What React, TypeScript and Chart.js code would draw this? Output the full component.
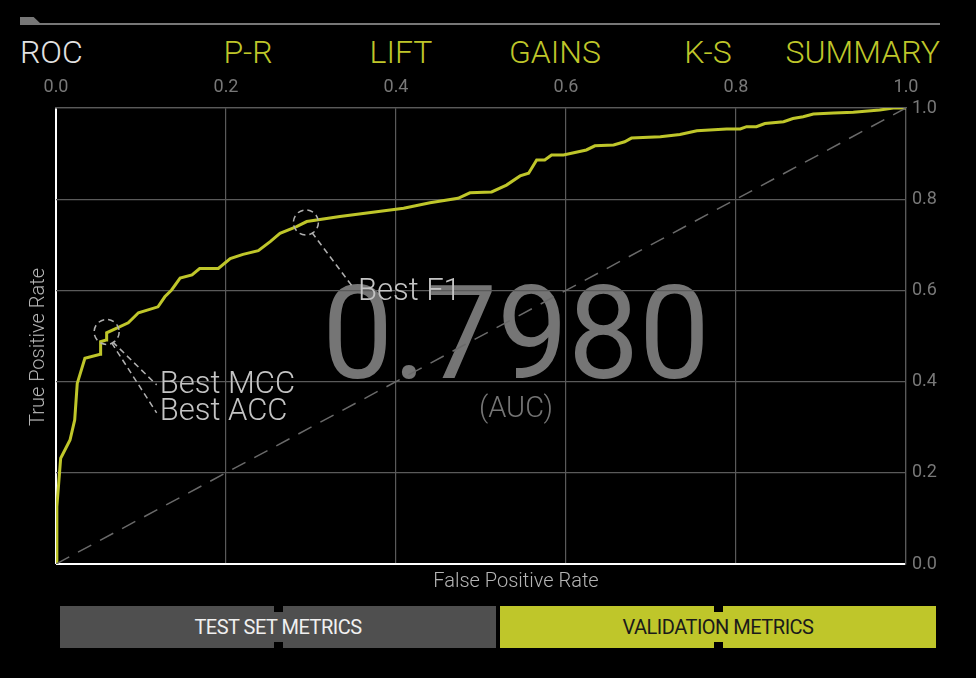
import React, { useEffect, useRef } from "react";
import { Chart, registerables } from "chart.js";

Chart.register(...registerables);

const fpr = [0, 0.001, 0.0055, 0.0165, 0.022, 0.025, 0.034, 0.052, 0.0525, 0.059, 0.0596, 0.085, 0.097, 0.12, 0.128, 0.136, 0.146, 0.16, 0.169, 0.191, 0.205, 0.22, 0.238, 0.252, 0.2635, 0.283, 0.295, 0.334, 0.409, 0.44, 0.473, 0.487, 0.5125, 0.53, 0.546, 0.556, 0.5655, 0.575, 0.583, 0.597, 0.624, 0.634, 0.656, 0.669, 0.677, 0.711, 0.734, 0.754, 0.789, 0.805, 0.8125, 0.824, 0.834, 0.856, 0.867, 0.879, 0.891, 0.915, 0.938, 0.969, 0.985, 1.0];
const tpr = [0, 0.126, 0.232, 0.272, 0.316, 0.396, 0.451, 0.46, 0.4875, 0.491, 0.507, 0.529, 0.551, 0.564, 0.586, 0.601, 0.627, 0.634, 0.648, 0.648, 0.67, 0.679, 0.687, 0.707, 0.725, 0.74, 0.751, 0.762, 0.78, 0.792, 0.802, 0.814, 0.816, 0.831, 0.851, 0.857, 0.886, 0.886, 0.897, 0.897, 0.908, 0.917, 0.919, 0.926, 0.934, 0.937, 0.942, 0.95, 0.954, 0.954, 0.959, 0.959, 0.966, 0.97, 0.977, 0.981, 0.987, 0.989, 0.9905, 0.9955, 1.0, 1.0];

const diagX = [0, 1];
const diagY = [0, 1];

const xTicks = [0, 0.2, 0.4, 0.6, 0.8, 1.0];
const yTicks = [0, 0.2, 0.4, 0.6, 0.8, 1.0];

const markerNames = ["Best MCC", "Best F1"];
const markerX = [0.0596, 0.294];
const markerY = [0.509, 0.749];

const aucValue = "0.7980";
const aucLabel = "(AUC)";

const tabs = ["ROC", "P-R", "LIFT", "GAINS", "K-S", "SUMMARY"];
const buttons = ["TEST SET METRICS", "VALIDATION METRICS"];

const FONT = "Roboto, 'DejaVu Sans', sans-serif";
const ACCENT = "#bfc62a";

export default function App() {
  const ref = useRef<HTMLCanvasElement | null>(null);

  useEffect(() => {
    document.body.style.margin = "0";
    document.body.style.background = "#000";
    const canvas = ref.current;
    if (!canvas) return;

    const bgPlugin = {
      id: "aucText",
      beforeDraw(chart: any) {
        const { ctx, chartArea } = chart;
        const cx = (chartArea.left + chartArea.right) / 2 + 35;
        ctx.save();
        ctx.fillStyle = "#757575";
        ctx.textAlign = "center";
        ctx.textBaseline = "alphabetic";
        ctx.font = `400 130px ${FONT}`;
        ctx.translate(cx, 378);
        ctx.scale(0.97, 1);
        ctx.fillText(aucValue, 0, 0);
        ctx.restore();
        ctx.save();
        ctx.fillStyle = "#757575";
        ctx.textAlign = "center";
        ctx.textBaseline = "middle";
        ctx.font = `300 29px ${FONT}`;
        ctx.fillText(aucLabel, cx, 410);
        ctx.restore();
      },
    };

    const markerPlugin = {
      id: "markers",
      afterDatasetsDraw(chart: any) {
        const { ctx } = chart;
        const xs = chart.scales.x;
        const ys = chart.scales.y;
        ctx.save();
        ctx.strokeStyle = "#b0b0b0";
        ctx.lineWidth = 1.5;
        ctx.setLineDash([6, 4]);
        ctx.font = `300 31px ${FONT}`;
        ctx.fillStyle = "#c4c4c4";
        ctx.textBaseline = "middle";
        ctx.textAlign = "left";
        // MCC / ACC marker
        const px0 = xs.getPixelForValue(markerX[0]);
        const py0 = ys.getPixelForValue(markerY[0]);
        ctx.beginPath();
        ctx.arc(px0, py0, 12.5, 0, Math.PI * 2);
        ctx.stroke();
        ctx.beginPath();
        ctx.moveTo(px0 + 6, py0 + 10);
        ctx.lineTo(px0 + 50, py0 + 53);
        ctx.moveTo(px0 + 5, py0 + 11);
        ctx.lineTo(px0 + 50, py0 + 81);
        ctx.stroke();
        ctx.fillText(markerNames[0], px0 + 53, py0 + 53);
        ctx.fillText("Best ACC", px0 + 53, py0 + 80);
        // F1 marker
        const px1 = xs.getPixelForValue(markerX[1]);
        const py1 = ys.getPixelForValue(markerY[1]);
        ctx.beginPath();
        ctx.arc(px1, py1, 12.5, 0, Math.PI * 2);
        ctx.stroke();
        ctx.beginPath();
        ctx.moveTo(px1 + 6, py1 + 10);
        ctx.lineTo(px1 + 48, py1 + 66);
        ctx.stroke();
        ctx.fillText(markerNames[1], px1 + 52, py1 + 70);
        ctx.restore();
      },
    };

    const gridColor = (c: any) => (c.tick && c.tick.value === 0 ? "#ffffff" : "#5a5a5a");
    const gridWidth = (c: any) => (c.tick && c.tick.value === 0 ? 2 : 1.2);

    const chart = new Chart(canvas, {
      type: "line",
      data: {
        datasets: [
          {
            data: diagX.map((x, i) => ({ x, y: diagY[i] })),
            borderColor: "#6a6a6a",
            borderWidth: 1.5,
            borderDash: [15, 10],
            pointRadius: 0,
            fill: false,
          },
          {
            data: fpr.map((x, i) => ({ x, y: tpr[i] })),
            borderColor: ACCENT,
            borderWidth: 3,
            pointRadius: 0,
            tension: 0,
            fill: false,
          },
        ],
      },
      options: {
        animation: false,
        responsive: true,
        maintainAspectRatio: false,
        layout: { padding: { left: 56, right: 0, top: 0, bottom: 114 } },
        plugins: { legend: { display: false }, tooltip: { enabled: false } },
        scales: {
          x: {
            type: "linear",
            position: "top",
            min: 0,
            max: 1,
            afterBuildTicks: (s: any) => {
              s.ticks = xTicks.map((v) => ({ value: v }));
            },
            afterFit: (s: any) => {
              s.height = 108;
            },
            ticks: {
              color: "#787878",
              font: { family: FONT, size: 18 },
              padding: 10,
              callback: (v: any) => Number(v).toFixed(1),
            },
            grid: { color: gridColor, lineWidth: gridWidth, drawTicks: false },
            border: { display: true, color: "#5a5a5a", width: 1.2 },
          },
          y: {
            type: "linear",
            position: "right",
            min: 0,
            max: 1,
            afterBuildTicks: (s: any) => {
              s.ticks = yTicks.map((v) => ({ value: v }));
            },
            afterFit: (s: any) => {
              s.width = 70;
            },
            ticks: {
              color: "#787878",
              font: { family: FONT, size: 18 },
              padding: 6,
              callback: (v: any) => Number(v).toFixed(1),
            },
            grid: { color: gridColor, lineWidth: gridWidth, drawTicks: false },
            border: { display: true, color: "#5a5a5a", width: 1.2 },
          },
        },
      },
      plugins: [bgPlugin, markerPlugin],
    } as any);
    return () => chart.destroy();
  }, []);

  const tabPos = [
    { left: 20, align: "left" },
    { center: 248 },
    { center: 401 },
    { center: 555 },
    { center: 708 },
    { right: 36 },
  ];

  return (
    <div style={{ position: "relative", width: 976, height: 678, background: "#000", overflow: "hidden", fontFamily: FONT }}>
      <div style={{ position: "absolute", left: 20, top: 23, width: 920, height: 2, background: "#777" }} />
      <div style={{ position: "absolute", left: 20, top: 17, width: 21, height: 7, background: "#777", clipPath: "polygon(0 0, 65% 0, 100% 100%, 0 100%)" }} />
      {tabs.map((t, i) => {
        const p: any = tabPos[i];
        const style: any = {
          position: "absolute",
          top: 32,
          fontSize: 32,
          fontWeight: 300,
          lineHeight: "40px",
          color: i === 0 ? "#e2e2e2" : ACCENT,
          whiteSpace: "nowrap",
        };
        if (p.left !== undefined) style.left = p.left;
        if (p.right !== undefined) style.right = p.right;
        if (p.center !== undefined) {
          style.left = p.center;
          style.transform = "translateX(-50%)";
        }
        return (
          <div key={t} style={style}>
            {t}
          </div>
        );
      })}
      <div style={{ position: "absolute", left: 0, top: 0, width: 976, height: 678 }}>
        <canvas ref={ref} />
      </div>
      <div
        style={{
          position: "absolute",
          left: 37,
          top: 347,
          transform: "translate(-50%, -50%) rotate(-90deg)",
          color: "#b5b5b5",
          fontSize: 20,
          fontWeight: 300,
          whiteSpace: "nowrap",
        }}
      >
        True Positive Rate
      </div>
      <div
        style={{
          position: "absolute",
          left: 516,
          top: 580,
          transform: "translate(-50%, -50%)",
          color: "#b5b5b5",
          fontSize: 20,
          fontWeight: 300,
          whiteSpace: "nowrap",
        }}
      >
        False Positive Rate
      </div>
      {buttons.map((b, i) => (
        <div
          key={b}
          style={{
            position: "absolute",
            left: i === 0 ? 60 : 500,
            top: 606,
            width: 436,
            height: 42,
            background: i === 0 ? "#4f4f4f" : ACCENT,
            color: i === 0 ? "#f0f0f0" : "#1a1a1a",
            display: "flex",
            alignItems: "center",
            justifyContent: "center",
            fontSize: 20,
            fontWeight: 400,
            letterSpacing: -0.5,
          }}
        >
          <div style={{ position: "absolute", left: 214, top: 0, width: 9, height: 6, background: "#000" }} />
          <div style={{ position: "absolute", left: 214, bottom: 0, width: 9, height: 6, background: "#000" }} />
          {b}
        </div>
      ))}
    </div>
  );
}
